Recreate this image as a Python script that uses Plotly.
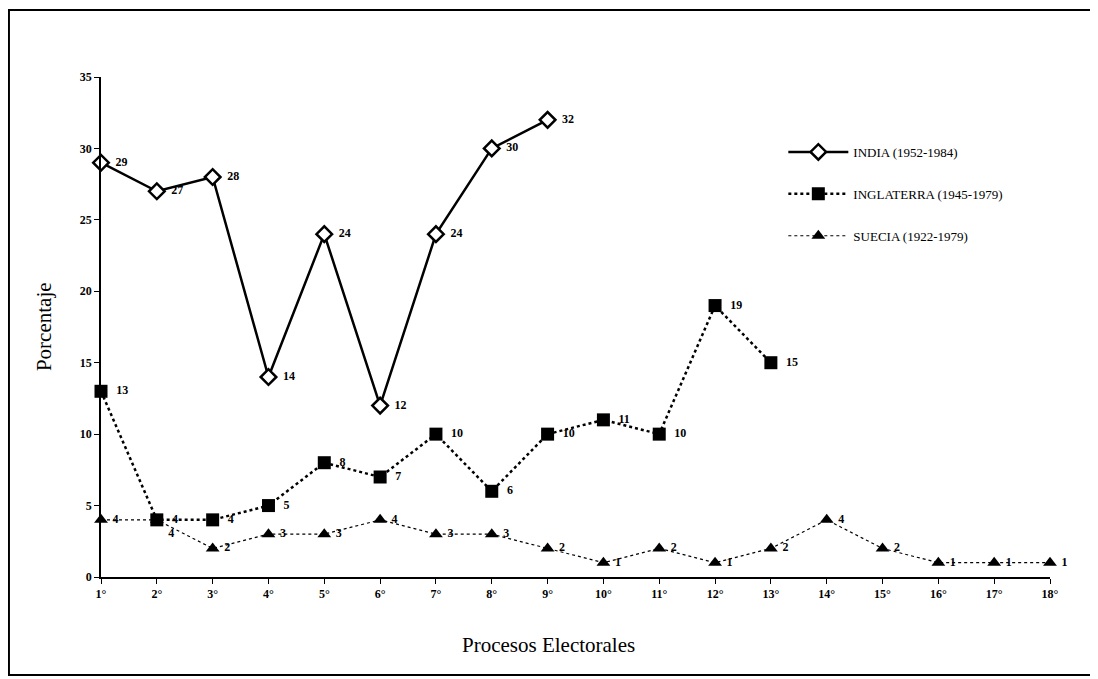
import plotly.graph_objects as go

categories = [f"{i}°" for i in range(1, 19)]
india = [29, 27, 28, 14, 24, 12, 24, 30, 32]
inglaterra = [13, 4, 4, 5, 8, 7, 10, 6, 10, 11, 10, 19, 15]
suecia = [4, 4, 2, 3, 3, 4, 3, 3, 2, 1, 2, 1, 2, 4, 2, 1, 1, 1]
y_ticks = [0, 5, 10, 15, 20, 25, 30, 35]

FONT = "Liberation Serif"
x_idx = list(range(1, 19))
lblfont = dict(family=FONT, size=12, color="#000000", weight="bold")

suecia_pos = ["middle right"] * len(suecia)
suecia_pos[1] = "bottom right"

fig = go.Figure()
fig.add_trace(go.Scatter(
    x=x_idx[:len(suecia)], y=suecia, mode="lines+markers+text",
    name="SUECIA (1922-1979)", legendgroup="c", legendrank=3,
    line=dict(color="black", width=1.2, dash="dot"),
    marker=dict(symbol="triangle-up", size=12, color="black"),
    text=[" " + str(v) for v in suecia], textposition=suecia_pos,
    textfont=lblfont, cliponaxis=False,
))
fig.add_trace(go.Scatter(
    x=x_idx[:len(inglaterra)], y=inglaterra, mode="lines+markers+text",
    name="INGLATERRA (1945-1979)", legendgroup="b", legendrank=2,
    line=dict(color="black", width=2.5, dash="dot"),
    marker=dict(symbol="square", size=13, color="black"),
    text=["  " + str(v) for v in inglaterra], textposition="middle right",
    textfont=lblfont, cliponaxis=False,
))
fig.add_trace(go.Scatter(
    x=x_idx[:len(india)], y=india, mode="lines+markers+text",
    name="INDIA (1952-1984)", legendgroup="a", legendrank=1,
    line=dict(color="black", width=2.5),
    marker=dict(symbol="diamond", size=12, color="white",
                line=dict(color="black", width=2.5)),
    text=["  " + str(v) for v in india], textposition="middle right",
    textfont=lblfont, cliponaxis=False,
))

fig.update_layout(
    width=1098, height=679,
    margin=dict(l=93, r=56, t=69, b=110),
    paper_bgcolor="white", plot_bgcolor="white",
    showlegend=True,
    legend=dict(x=0.719, y=0.88, xanchor="left", yanchor="top",
                traceorder="grouped",
                font=dict(family=FONT, size=13, color="black"),
                itemwidth=60, tracegroupgap=22, bgcolor="rgba(0,0,0,0)"),
    font=dict(family=FONT, color="black"),
)
fig.update_xaxes(
    range=[1, 18], tickmode="array", tickvals=x_idx, ticktext=categories,
    showgrid=False, zeroline=False, showline=True, linecolor="black", linewidth=1.5,
    ticks="outside", ticklen=5, tickcolor="black",
    tickfont=dict(family=FONT, size=12, color="black", weight="bold"),
)
fig.update_yaxes(
    range=[0, 35], tickmode="array", tickvals=y_ticks,
    showgrid=False, zeroline=False, showline=True, linecolor="black", linewidth=1.5,
    ticks="outside", ticklen=5, tickcolor="black",
    tickfont=dict(family=FONT, size=12, color="black", weight="bold"),
)
fig.add_annotation(text="Procesos Electorales", xref="paper", yref="paper",
                   x=0.472, y=-0.136, xanchor="center", yanchor="middle",
                   showarrow=False, font=dict(family=FONT, size=21, color="black"))
fig.add_annotation(text="Porcentaje", xref="paper", yref="paper",
                   x=-0.06, y=0.5, xanchor="center", yanchor="middle", textangle=-90,
                   showarrow=False, font=dict(family=FONT, size=21, color="black"))
fig.add_shape(type="rect", xref="paper", yref="paper",
              x0=-0.097, x1=1.047, y0=-0.196, y1=1.134,
              line=dict(color="black", width=2))

fig.write_html("out.html")
